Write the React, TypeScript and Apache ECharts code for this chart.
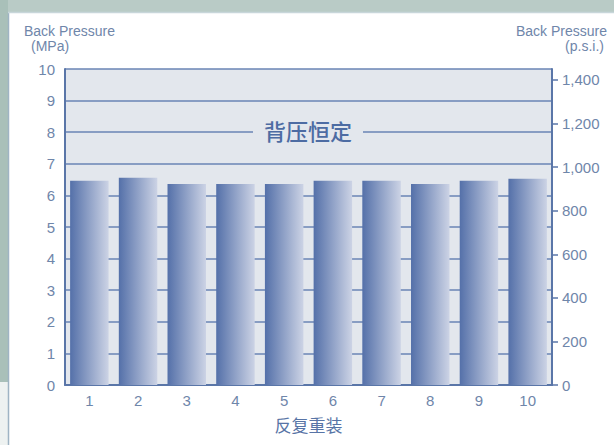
import React, { useEffect, useRef } from "react";
import * as echarts from "echarts";

const categories = ["1", "2", "3", "4", "5", "6", "7", "8", "9", "10"];
const backPressureMPa = [6.46, 6.56, 6.36, 6.36, 6.36, 6.46, 6.46, 6.36, 6.46, 6.53];
const MPA_TO_PSI = 145.038;

export default function App() {
  const ref = useRef<HTMLDivElement>(null);
  useEffect(() => {
    document.body.style.margin = "0";
    const chart = echarts.init(ref.current!, null, { renderer: "svg" });
    const axisColor = "#5a76a8";
    const labelColor = "#6f86aa";
    const font = "Liberation Sans";
    chart.setOption({
      animation: false,
      backgroundColor: "#ffffff",
      graphic: [
        { type: "rect", left: 0, top: 0, shape: { width: 614, height: 12 }, style: { fill: "#b9cbc6" }, z: -10 },
        { type: "rect", left: 0, top: 0, shape: { width: 8, height: 382 }, style: { fill: "#a9c0b9" }, z: -10 },
        { type: "rect", left: 0, top: 382, shape: { width: 8, height: 63 }, style: { fill: "#eef2f1" }, z: -10 },
        { type: "line", shape: { x1: 8.5, y1: 12, x2: 8.5, y2: 445 }, style: { stroke: "#9fb4c4", lineWidth: 1.5 }, z: -9 },
        { type: "line", shape: { x1: 8, y1: 12.5, x2: 614, y2: 12.5 }, style: { stroke: "#c8d6da", lineWidth: 1.5 }, z: -9 },
        { type: "text", x: 24, y: 24, style: { text: "Back Pressure", fill: labelColor, font: `14px ${font}` } },
        { type: "text", x: 31, y: 39, style: { text: "(MPa)", fill: labelColor, font: `14px ${font}` } },
        { type: "text", x: 607, y: 24, style: { text: "Back Pressure", fill: labelColor, font: `14px ${font}`, align: "right" } },
        { type: "text", x: 604, y: 39, style: { text: "(p.s.i.)", fill: labelColor, font: `14px ${font}`, align: "right" } },
        {
          type: "text", x: 308, y: 130, z: 100,
          style: {
            text: "背压恒定", fill: "#4d6ca3", font: `500 22px "Noto Sans CJK SC"`,
            align: "center", verticalAlign: "middle", backgroundColor: "#e3e7ed", padding: [2, 11, 2, 11],
          },
        },
      ],
      grid: {
        left: 65, right: 62, top: 69, bottom: 60, show: true,
        backgroundColor: "#e3e7ed", borderWidth: 0,
      },
      xAxis: {
        type: "category",
        data: categories,
        name: "反复重装",
        nameLocation: "middle",
        nameGap: 31,
        nameTextStyle: { color: "#5874a6", fontSize: 17, fontFamily: "Noto Sans CJK SC" },
        axisLine: { lineStyle: { color: axisColor, width: 2 } },
        axisTick: { show: false },
        axisLabel: { color: labelColor, fontSize: 15, fontFamily: font, margin: 8 },
      },
      yAxis: [
        {
          type: "value", min: 0, max: 10, interval: 1,
          axisLine: { show: true, lineStyle: { color: axisColor, width: 2 } },
          axisTick: { show: false },
          axisLabel: { color: labelColor, fontSize: 15, fontFamily: font, margin: 10 },
          splitLine: { show: true, lineStyle: { color: "#6a84b4", width: 1.6 } },
        },
        {
          type: "value", min: 0, max: 10 * MPA_TO_PSI, interval: 200, position: "right",
          axisLine: { show: true, lineStyle: { color: axisColor, width: 2 } },
          axisTick: { show: true, length: 6, lineStyle: { color: axisColor, width: 1.5 } },
          axisLabel: {
            color: labelColor, fontSize: 15, fontFamily: font, margin: 10, showMaxLabel: false,
            formatter: (v: number) => (v % 200 === 0 ? v.toLocaleString("en-US") : ""),
          },
          splitLine: { show: false },
        },
      ],
      series: [
        {
          type: "bar",
          data: backPressureMPa,
          barCategoryGap: "21%",
          itemStyle: {
            color: new echarts.graphic.LinearGradient(0, 0, 1, 0, [
              { offset: 0, color: "#5470a9" },
              { offset: 1, color: "#ccd3e5" },
            ]),
          },
        },
      ],
    });
    return () => chart.dispose();
  }, []);
  return <div ref={ref} style={{ position: "fixed", left: 0, top: 0, width: 614, height: 445 }} />;
}
